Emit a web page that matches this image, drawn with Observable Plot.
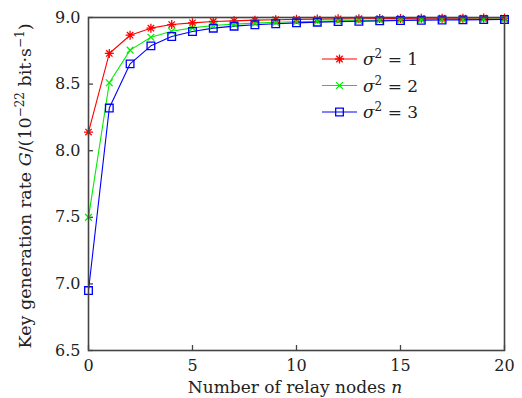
<!DOCTYPE html>
<html><head><meta charset="utf-8">
<script src="https://cdn.jsdelivr.net/npm/d3@7"></script>
<script src="https://cdn.jsdelivr.net/npm/@observablehq/plot@0.6"></script>
<style>body{margin:0;background:#fff}</style>
</head><body><div id="chart"></div>
<script>
const nodes = [0,1,2,3,4,5,6,7,8,9,10,11,12,13,14,15,16,17,18,19,20];
const sigma1 = [8.14,8.73,8.867,8.92,8.947,8.96,8.97,8.975,8.98,8.983,8.986,8.988,8.99,8.991,8.992,8.993,8.994,8.995,8.995,8.996,8.996];
const sigma2 = [7.50,8.51,8.755,8.852,8.897,8.922,8.94,8.95,8.958,8.964,8.968,8.972,8.975,8.978,8.98,8.982,8.984,8.985,8.986,8.987,8.988];
const sigma3 = [6.95,8.32,8.652,8.787,8.857,8.895,8.92,8.935,8.945,8.953,8.96,8.965,8.969,8.972,8.975,8.977,8.979,8.981,8.982,8.984,8.985];
const seriesNames = ["1","2","3"];
const seriesColors = ["#ff0000","#00ee00","#0000ff"];
const xTicks = [0,5,10,15,20];
const yTicks = [6.5,7.0,7.5,8.0,8.5,9.0];

const asterisk = {draw(ctx, size){ const r = Math.sqrt(size/Math.PI);
  for (let k=0;k<4;k++){ const a=k*Math.PI/4; ctx.moveTo(-r*Math.cos(a),-r*Math.sin(a)); ctx.lineTo(r*Math.cos(a),r*Math.sin(a)); } }};
const times = {draw(ctx, size){ const r = Math.sqrt(size/Math.PI)*0.75;
  ctx.moveTo(-r,-r); ctx.lineTo(r,r); ctx.moveTo(-r,r); ctx.lineTo(r,-r); }};
const square = {draw(ctx, size){ const r = Math.sqrt(size/Math.PI)*0.85;
  ctx.moveTo(-r,-r); ctx.lineTo(r,-r); ctx.lineTo(r,r); ctx.lineTo(-r,r); ctx.closePath(); }};
const symbols = [asterisk, times, square];

const data = [];
[sigma1, sigma2, sigma3].forEach((vals, i) => vals.forEach((g, j) => data.push({n: nodes[j], g, s: seriesNames[i]})));

const chart = Plot.plot({
  width: 522, height: 398,
  marginLeft: 88, marginRight: 18, marginTop: 17, marginBottom: 48,
  style: {fontFamily: "DejaVu Serif", fontSize: "16px", background: "white", color: "#222"},
  x: {domain: [0, 20]},
  y: {domain: [6.5, 9.0]},
  color: {domain: seriesNames, range: seriesColors},
  symbol: {domain: seriesNames, range: symbols},
  marks: [
    Plot.axisX({ticks: xTicks, tickSize: -5, tickPadding: 14, label: null, stroke: "#444", strokeWidth: 1.3}),
    Plot.axisY({ticks: yTicks, tickSize: -5, tickPadding: 13, label: null, tickFormat: d3.format(".1f"), stroke: "#444", strokeWidth: 1.3}),
    Plot.line(data, {x: "n", y: "g", z: "s", stroke: "s", strokeWidth: 1.1}),
    Plot.dot(data, {x: "n", y: "g", stroke: "s", symbol: "s", r: 4.5, strokeWidth: 1.3}),
    Plot.frame({stroke: "#444", strokeWidth: 1.6})
  ]
});
document.getElementById("chart").appendChild(chart);

const svg = d3.select(chart);
// legend
const lg = svg.append("g").attr("font-family", "DejaVu Serif").attr("font-size", 17).attr("fill", "#222").attr("text-anchor", "start");
seriesNames.forEach((name, i) => {
  const y = 59 + i * 26.5;
  lg.append("line").attr("x1", 322).attr("x2", 357).attr("y1", y).attr("y2", y)
    .attr("stroke", seriesColors[i]).attr("stroke-width", 1.1);
  const p = d3.path(); symbols[i].draw(p, 4.5*4.5*Math.PI);
  lg.append("path").attr("d", p.toString()).attr("transform", `translate(339.5,${y})`)
    .attr("fill", "none").attr("stroke", seriesColors[i]).attr("stroke-width", 1.3);
  const t = lg.append("text").attr("x", 363).attr("y", y + 6);
  t.append("tspan").attr("font-style", "italic").text("σ");
  t.append("tspan").attr("font-size", 12).attr("dy", -7).text("2");
  t.append("tspan").attr("dy", 7).text(" = " + name);
});
// x label
const xl = svg.append("text").attr("x", 295).attr("y", 393).attr("text-anchor", "middle")
  .attr("font-family", "DejaVu Serif").attr("font-size", 17).attr("fill", "#222");
xl.append("tspan").text("Number of relay nodes ");
xl.append("tspan").attr("font-style", "italic").text("n");
// y label
const yl = svg.append("text").attr("transform", "translate(31,186) rotate(-90)").attr("text-anchor", "middle")
  .attr("font-family", "DejaVu Serif").attr("font-size", 17.5).attr("fill", "#222");
yl.append("tspan").text("Key generation rate ");
yl.append("tspan").attr("font-style", "italic").text("G");
yl.append("tspan").text("/(10");
yl.append("tspan").attr("font-size", 12).attr("dy", -7).text("−22");
yl.append("tspan").attr("dy", 7).text(" bit·s");
yl.append("tspan").attr("font-size", 12).attr("dy", -7).text("−1");
yl.append("tspan").attr("dy", 7).text(")");
</script>
</body></html>
